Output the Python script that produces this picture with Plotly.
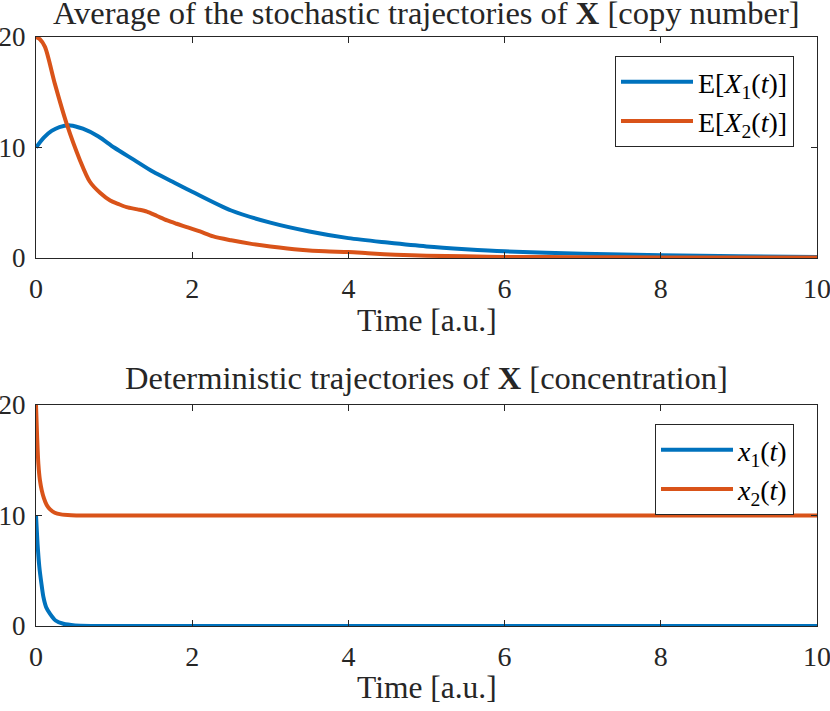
import plotly.graph_objects as go
from plotly.subplots import make_subplots

# ---- data ----
t_sto_1 = [0, 0.1, 0.2, 0.3, 0.44, 0.6, 0.8, 1.0, 1.25, 1.5, 1.75, 2.0, 2.5, 3.0, 3.5,
           4.0, 4.5, 5.0, 5.5, 6.0, 7.0, 8.0, 9.0, 10.0]
EX1 = [10.0, 10.9, 11.5, 11.85, 12.0, 11.7, 11.0, 10.0, 8.9, 7.8, 6.9, 6.0, 4.3, 3.2, 2.4,
       1.8, 1.4, 1.05, 0.8, 0.6, 0.38, 0.25, 0.15, 0.08]

t_sto_2 = [0, 0.05, 0.115, 0.24, 0.39, 0.56, 0.69, 0.82, 0.95, 1.05, 1.16, 1.3, 1.42, 1.55,
           1.68, 1.8, 1.93, 2.1, 2.27, 2.5, 2.74, 3.0, 3.38, 3.7, 4.0, 4.3, 4.6, 5.0, 5.5,
           6.0, 7.0, 8.0, 9.0, 10.0]
EX2 = [20.0, 19.8, 19.1, 15.8, 12.2, 8.9, 6.9, 5.9, 5.2, 4.9, 4.6, 4.4, 4.2, 3.8,
       3.4, 3.1, 2.8, 2.4, 1.95, 1.6, 1.3, 1.05, 0.75, 0.6, 0.55, 0.4, 0.3, 0.2, 0.15,
       0.1, 0.07, 0.05, 0.05, 0.04]

t_det_1 = [0, 0.02, 0.042, 0.07, 0.094, 0.13, 0.18, 0.25, 0.35, 0.5, 0.7, 1.0, 2.0, 4.0,
           6.0, 8.0, 10.0]
x1 = [10.0, 7.4, 5.4, 3.8, 2.65, 1.7, 1.1, 0.5, 0.2, 0.05, 0.01, 0.0, 0.0, 0.0,
      0.0, 0.0, 0.0]

t_det_2 = [0, 0.015, 0.03, 0.05, 0.073, 0.1, 0.137, 0.18, 0.24, 0.32, 0.45, 0.6, 1.0,
           2.0, 4.0, 6.0, 8.0, 10.0]
x2 = [20.0, 17.0, 14.7, 13.2, 12.3, 11.6, 10.95, 10.55, 10.25, 10.1, 10.03, 10.0, 10.0,
      10.0, 10.0, 10.0, 10.0, 10.0]

x_ticks = [0, 2, 4, 6, 8, 10]
y_ticks = [0, 10, 20]

title_top = "Average of the stochastic trajectories of <b>X</b> [copy number]"
title_bot = "Deterministic trajectories of <b>X</b> [concentration]"
xlabel = "Time [a.u.]"

BLUE = "#0072BD"
ORANGE = "#D95319"
AX = "#262626"
FONT = "Liberation Serif"
FS = 28
FS_Y = 27
FS_T = 32.5
FS_X = 31.5

W, H = 830, 711
ML, MR, MT, MB = 36, 13, 37, 85
PH = H - MT - MB
ax_h = 221

fig = make_subplots(rows=2, cols=1)

LW = 4
fig.add_trace(go.Scatter(x=t_sto_1, y=EX1, mode="lines", line=dict(color=BLUE, width=LW, shape="spline", smoothing=0.8),
                         name="E[<i>X</i><sub>1</sub>(<i>t</i>)]", legend="legend"), row=1, col=1)
fig.add_trace(go.Scatter(x=t_sto_2, y=EX2, mode="lines", line=dict(color=ORANGE, width=LW, shape="spline", smoothing=0.8),
                         name="E[<i>X</i><sub>2</sub>(<i>t</i>)]", legend="legend"), row=1, col=1)
fig.add_trace(go.Scatter(x=t_det_1, y=x1, mode="lines", line=dict(color=BLUE, width=LW, shape="spline", smoothing=0.5),
                         name="<i>x</i><sub>1</sub>(<i>t</i>)", legend="legend2"), row=2, col=1)
fig.add_trace(go.Scatter(x=t_det_2, y=x2, mode="lines", line=dict(color=ORANGE, width=LW, shape="spline", smoothing=0.5),
                         name="<i>x</i><sub>2</sub>(<i>t</i>)", legend="legend2"), row=2, col=1)

axis_common = dict(showline=True, linecolor=AX, linewidth=1, mirror="ticks", ticks="inside",
                   ticklen=6, tickcolor=AX, tickwidth=1, showgrid=False, zeroline=False,
                   automargin=False, ticklabeloverflow="allow")
fig.update_xaxes(range=[0, 10], tickvals=x_ticks, ticklabelstandoff=5,
                 tickfont=dict(family=FONT, size=FS, color=AX), **axis_common)
fig.update_yaxes(range=[0, 20], tickvals=y_ticks, ticklabelstandoff=4,
                 tickfont=dict(family=FONT, size=FS_Y, color=AX), **axis_common)

top_lo = (PH - ax_h) / PH
fig.update_layout(
    xaxis=dict(domain=[0, 1]), xaxis2=dict(domain=[0, 1]),
    yaxis=dict(domain=[top_lo, 1]), yaxis2=dict(domain=[0, ax_h / PH]),
)

def py(p):
    return (H - MB - p) / PH

def lx(p):
    return (p - ML) / (W - ML - MR)

annos = [
    dict(text=title_top, x=0.5, y=py(13), size=FS_T),
    dict(text=xlabel, x=0.5, y=py(320), size=FS_X),
    dict(text=title_bot, x=0.5, y=py(378), size=FS_T),
    dict(text=xlabel, x=0.5, y=py(688), size=FS_X),
]
for a in annos:
    fig.add_annotation(xref="paper", yref="paper", xanchor="center", yanchor="middle",
                       showarrow=False, text=a["text"], x=a["x"], y=a["y"],
                       font=dict(family=FONT, size=a["size"], color=AX))

leg_common = dict(xanchor="right", yanchor="top", bgcolor="white", bordercolor=AX, borderwidth=1,
                  font=dict(family=FONT, size=FS, color="black"), itemwidth=72, tracegroupgap=0)
fig.update_layout(
    width=W, height=H, margin=dict(l=ML, r=MR, t=MT, b=MB, autoexpand=False),
    paper_bgcolor="white", plot_bgcolor="white",
    legend=dict(x=lx(794), y=py(56), **leg_common),
    legend2=dict(x=lx(794), y=py(424), **leg_common),
    showlegend=True,
)

fig.write_html("out.html", config={"displayModeBar": False},
               post_script="document.body.style.margin='0px';document.body.style.overflow='hidden';")
